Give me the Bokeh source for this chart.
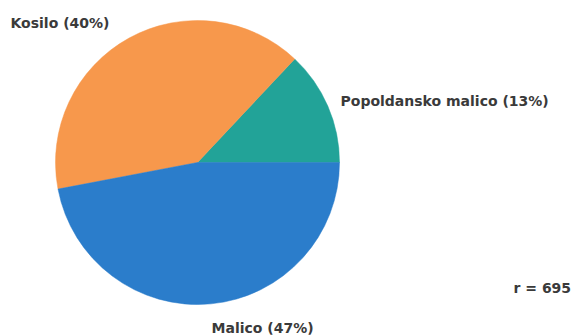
import numpy as np
from bokeh.plotting import figure
from bokeh.models import ColumnDataSource
from bokeh.core.properties import value
from bokeh.embed import file_html
from bokeh.resources import INLINE

categories = ["Popoldansko malico", "Kosilo", "Malico"]
percents = [13, 40, 47]
colors = ["#22A398", "#F7984C", "#2B7DCB"]
n_total = 695

W, H = 575, 336
p = figure(width=W, height=H, x_range=(0, W), y_range=(0, H),
           output_backend="svg", toolbar_location=None, min_border=0)
p.axis.visible = False
p.grid.visible = False
p.outline_line_color = None
p.background_fill_color = "white"

fr = np.array(percents) / sum(percents)
ends = np.cumsum(fr) * 2 * np.pi
starts = np.concatenate([[0], ends[:-1]])
src = ColumnDataSource(dict(start=starts, end=ends, color=colors))
cx, cy, r = 197, H - 162, 142
p.wedge(x=cx, y=cy, radius=r, start_angle="start", end_angle="end",
        fill_color="color", line_color="color", line_width=0.5, source=src)

labels = [f"{c} ({v}%)" for c, v in zip(categories, percents)]
lx = [340, 10, 211]
ly = [H - 100, H - 22, H - 327]
p.text(x=lx, y=ly, text=labels, text_font=value("DejaVu Sans"),
       text_font_size="14px", text_font_style="bold", text_color="#3a3a3a",
       text_baseline="middle", text_align="left")
p.text(x=[513], y=[H - 287], text=[f"r = {n_total}"], text_font=value("DejaVu Sans"),
       text_font_size="14px", text_font_style="bold", text_color="#3a3a3a",
       text_baseline="middle", text_align="left")

open("out.html", "w").write(file_html(p, INLINE))
